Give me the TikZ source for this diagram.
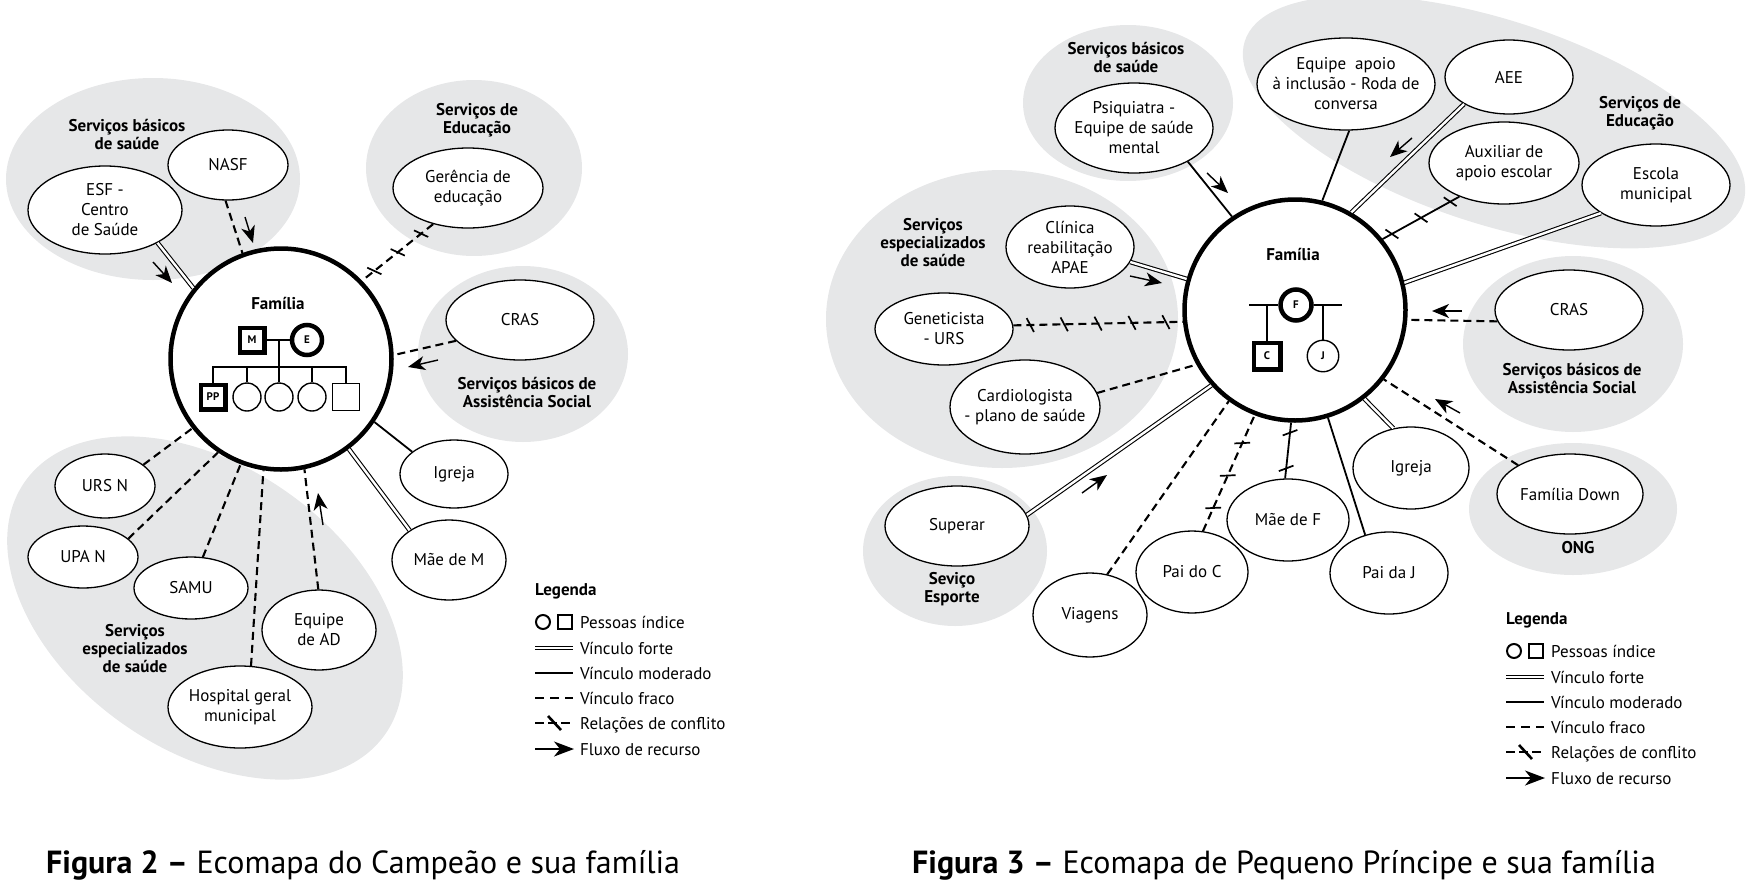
\documentclass[tikz,border=0pt]{standalone}
\usepackage{fontspec}
\setmainfont{PT Sans}
\usepackage{tikz}
\usetikzlibrary{shapes.geometric, arrows.meta, decorations.markings}

\definecolor{bolhacinza}{RGB}{230,231,232}
\newcommand{\servfont}{\fontsize{17}{20}\selectfont}
\newcommand{\grupofont}{\fontsize{17}{18}\selectfont\bfseries}
\newcommand{\genofont}{\fontsize{11}{12}\selectfont\bfseries}
\newcommand{\capfont}{\fontsize{32}{36}\selectfont}

\begin{document}
\begin{tikzpicture}[x=1pt, y=-1pt,
    bolha/.style = {fill=bolhacinza},
    serv/.style 2 args = {ellipse, draw, fill=white, line width=1.3pt,
        inner sep=0pt, minimum width=#1pt, minimum height=#2pt},
    servtxt/.style = {align=center, font=\servfont, inner sep=0pt},
    grupo/.style = {align=center, font=\grupofont, inner sep=0pt},
    fam/.style = {circle, draw, fill=white, line width=4.5pt,
        minimum size=221pt},
    pessoa/.style = {draw, fill=white, inner sep=0pt, font=\genofont},
    forte/.style = {double, double distance=2.4pt, line width=1.1pt},
    moderado/.style = {line width=1.8pt},
    fraco/.style = {line width=2.1pt, dash pattern=on 8pt off 5pt},
    conflito/.style = {postaction={decorate, decoration={markings,
        mark=between positions #1 with {\draw[solid, line width=1.7pt]
        (-3.5pt,7pt) -- (3.5pt,-7pt);}}}},
    fluxo/.style = {line width=1.4pt,
        -{Stealth[length=17pt, width=14pt, inset=5pt]}}]

\useasboundingbox (0,0) rectangle (1747,881);

% ---------------- Figura 2 ----------------

% Grupos de servicos
\fill[bolha] (153,179) ellipse (147 and 101);
\fill[bolha] (474,168) ellipse (108 and 88);
\fill[bolha] (523,354) ellipse (105 and 88);
\fill[bolha, rotate around={-35:(205,608)}] (205,608) ellipse (220 and 142);

% Familia
\node[fam] (fam1) at (281,359) {};
\node[grupo] (tfam1) at (278,303) {Família};

% Genograma
\node[pessoa, minimum size=24.5pt, line width=4.5pt] (m) at (252,340) {M};
\node[pessoa, circle, minimum size=30pt, line width=4.5pt] (e) at (307,340) {E};
\node[pessoa, minimum size=24.5pt, line width=4.5pt] (pp) at (213,397) {PP};
\node[pessoa, circle, minimum size=28pt, line width=1.4pt] (f1) at (247,397) {};
\node[pessoa, circle, minimum size=28pt, line width=1.4pt] (f2) at (279,397) {};
\node[pessoa, circle, minimum size=28pt, line width=1.4pt] (f3) at (312,397) {};
\node[pessoa, minimum size=27pt, line width=1.4pt] (s1) at (346,397) {};
\coordinate (casal1) at (279,340);
\coordinate (irm1) at (279,367);
\draw[line width=1.2pt] (m.east) -- (e.west);
\draw[line width=1.2pt] (casal1) -- (irm1);
\draw[line width=1.2pt] (pp.north) |- (s1.north |- irm1) -- (s1.north);
\foreach \k in {f1,f2,f3}
    \draw[line width=1.2pt] (\k.north) -- (\k.north |- irm1);

% Servicos
\node[serv={154}{88}, label={[servtxt]center:{ESF -\\Centro\\de Saúde}}] (esf) at (105,210) {};
\node[serv={120}{70}, label={[servtxt]center:NASF}] (nasf) at (228,165) {};
\node[serv={150}{80}, label={[servtxt]center:{Gerência de\\educação}}] (geren) at (468,188) {};
\node[serv={148}{80}, label={[servtxt]center:CRAS}] (cras1) at (520,320) {};
\node[serv={108}{68}, label={[servtxt]center:Igreja}] (igreja1) at (454,474) {};
\node[serv={114}{80}, label={[servtxt]center:Mãe de M}] (maem) at (449,560) {};
\node[serv={100}{64}, label={[servtxt]center:URS N}] (urs) at (105,486) {};
\node[serv={110}{62}, label={[servtxt]center:UPA N}] (upa) at (83,557) {};
\node[serv={114}{62}, label={[servtxt]center:SAMU}] (samu) at (191,588) {};
\node[serv={114}{80}, label={[servtxt]center:{Equipe\\de AD}}] (ad) at (319,630) {};
\node[serv={144}{82}, label={[servtxt]center:{Hospital geral\\municipal}}] (hosp) at (240,707) {};

% Vinculos
\draw[forte] (esf.328) -- (fam1.141);
\draw[fraco] (nasf.266) -- (fam1.110);
\draw[fraco, conflito={0.17 and 0.85 step 0.33}] (geren.226) -- (fam1.44);
\draw[fraco] (cras1.198) -- (fam1.2);
\draw[moderado] (igreja1.152) -- (fam1.326);
\draw[forte] (maem.143) -- (fam1.307);
\draw[fraco] (urs.29) -- (fam1.218);
\draw[fraco] (upa.22) -- (fam1.236);
\draw[fraco] (samu.69) -- (fam1.249);
\draw[fraco] (hosp.75) -- (fam1.261);
\draw[fraco] (ad.91) -- (fam1.282);

% Titulos dos grupos
\node[grupo] (g1saude) at (127,134) {Serviços básicos\\de saúde};
\node[grupo] (g1edu) at (477,120) {Serviços de\\Educação};
\node[grupo] (g1social) at (527,392) {Serviços básicos de\\Assistência Social};
\node[grupo] (g1esp) at (135,649) {Serviços\\especializados\\de saúde};

% ---------------- Figura 3 ----------------

% Grupos de servicos
\fill[bolha] (1128,103) ellipse (105 and 78);
\fill[bolha] (1002,319) ellipse (176 and 149);
\fill[bolha, rotate around={-18:(1494,122)}] (1494,122) ellipse (262 and 102);
\fill[bolha] (1573,344) ellipse (110 and 88);
\fill[bolha] (1573,509) ellipse (104 and 66);
\fill[bolha] (955,551) ellipse (92 and 75);

% Familia
\node[fam] (fam2) at (1295,310) {};
\node[grupo] (tfam2) at (1293,254) {Família};

% Genograma
\node[pessoa, circle, minimum size=31pt, line width=4.5pt] (f) at (1296,305) {F};
\node[pessoa, minimum size=26.5pt, line width=4.5pt] (c) at (1267,356) {C};
\node[pessoa, circle, minimum size=31.5pt, line width=1.4pt] (j) at (1323,356) {J};
\coordinate (fl) at (1249,305);
\coordinate (fr) at (1342,305);
\draw[line width=1.2pt] (fl) -- (f.west);
\draw[line width=1.2pt] (f.east) -- (fr);
\draw[line width=1.2pt] (c.north) -- (c.north |- fl);
\draw[line width=1.2pt] (j.north) -- (j.north |- fl);

% Servicos
\node[serv={158}{90}, label={[servtxt]center:{Psiquiatra -\\Equipe de saúde\\mental}}] (psiq) at (1134,128) {};
\node[serv={128}{82}, label={[servtxt]center:{Clínica\\reabilitação\\APAE}}] (clin) at (1070,247) {};
\node[serv={138}{72}, label={[servtxt]center:{Geneticista\\- URS}}] (genet) at (944,329) {};
\node[serv={150}{94}, label={[servtxt]center:{Cardiologista\\- plano de saúde}}] (cardio) at (1025,407) {};
\node[serv={144}{80}, label={[servtxt]center:Superar}] (superar) at (957,526) {};
\node[serv={114}{84}, label={[servtxt]center:Viagens}] (viagens) at (1090,615) {};
\node[serv={112}{82}, label={[servtxt]center:Pai do C}] (paic) at (1192,572) {};
\node[serv={122}{82}, label={[servtxt]center:Mãe de F}] (maef) at (1288,520) {};
\node[serv={118}{82}, label={[servtxt]center:Pai da J}] (paij) at (1389,573) {};
\node[serv={116}{82}, label={[servtxt]center:Igreja}] (igreja2) at (1411,468) {};
\node[serv={146}{80}, label={[servtxt]center:Família Down}] (down) at (1570,494) {};
\node[serv={148}{80}, label={[servtxt]center:CRAS}] (cras2) at (1569,310) {};
\node[serv={148}{82}, label={[servtxt]center:{Escola\\municipal}}] (escola) at (1656,185) {};
\node[serv={150}{82}, label={[servtxt]center:{Auxiliar de\\apoio escolar}}] (aux) at (1504,163) {};
\node[serv={128}{74}, label={[servtxt]center:AEE}] (aee) at (1509,77) {};
\node[serv={178}{92}, label={[servtxt]center:{Equipe\ \ apoio\\à inclusão - Roda de\\conversa}}] (apoio) at (1346,84) {};

% Vinculos
\draw[moderado] (psiq.328) -- (fam2.124);
\draw[forte] (clin.346) -- (fam2.164);
\draw[fraco, conflito={0.1 and 0.95 step 0.2}] (genet.3) -- (fam2.186);
\draw[fraco] (cardio.11) -- (fam2.209);
\draw[forte] (superar.9) -- (fam2.222);
\draw[fraco] (viagens.67) -- (fam2.234);
\draw[fraco, conflito={0.2 and 0.8 step 0.28}] (paic.75) -- (fam2.249);
\draw[moderado, conflito={0.18 and 0.85 step 0.64}] (maef.94) -- (fam2.268);
\draw[moderado] (paij.122) -- (fam2.287);
\draw[forte] (igreja2.114) -- (fam2.308);
\draw[fraco] (down.151) -- (fam2.322);
\draw[fraco] (cras2.189) -- (fam2.355);
\draw[forte] (escola.207) -- (fam2.14);
\draw[moderado, conflito={0.12 and 0.9 step 0.38}] (aux.217) -- (fam2.39);
\draw[forte] (aee.211) -- (fam2.60);
\draw[moderado] (apoio.274) -- (fam2.76);

% Titulos dos grupos
\node[grupo] (g2saude) at (1126,57) {Serviços básicos\\de saúde};
\node[grupo] (g2esp) at (933,243) {Serviços\\especializados\\de saúde};
\node[grupo] (g2edu) at (1640,113) {Serviços de\\Educação};
\node[grupo] (g2social) at (1572,378) {Serviços básicos de\\Assistência Social};
\node[grupo] (g2ong) at (1578,548) {ONG};
\node[grupo] (g2esporte) at (952,589) {Seviço\\Esporte};

% Fluxo de recurso
\foreach \xa/\ya/\xb/\yb in {153/262/172/283, 245/217/253/243, 438/360/408/367,
    323/525/318/493, 1207/173/1228/193, 1130/276/1162/283, 1412/138/1390/157,
    1462/311/1432/311, 1460/413/1435/399, 1082/493/1107/475}
    \draw[fluxo] (\xa,\ya) -- (\xb,\yb);

% Legendas
\foreach \dx/\dy in {0/0, 971/29} {
  \begin{scope}[shift={(\dx,\dy)}]
    \node[grupo, anchor=west] (legenda\dx) at (535,591) {Legenda};
    \node[pessoa, circle, line width=2pt, minimum size=14pt] (legc\dx) at (543,622) {};
    \node[pessoa, line width=2pt, minimum size=14pt] (legq\dx) at (565,622) {};
    \draw[forte] (535,648) -- (573,648);
    \draw[moderado] (535,673) -- (573,673);
    \draw[fraco, dash pattern=on 9pt off 6pt] (535,698) -- (573,698);
    \draw[fraco, dash pattern=on 9pt off 4pt] (535,723) -- (573,723);
    \draw[line width=2.6pt] (548,716) -- (561,730);
    \draw[fluxo, -{Stealth[length=20pt, width=15pt, inset=6pt]}] (535,749) -- (574,749);
    \foreach \y/\t in {622/Pessoas índice, 648/Vínculo forte, 673/Vínculo moderado,
        698/Vínculo fraco, 723/Relações de conflito, 749/Fluxo de recurso}
      \node[servtxt, anchor=base west, yshift=-6pt] (leg\dx-\y) at (580,\y) {\t};
  \end{scope}
}

% Legendas das figuras
\node[font=\capfont, anchor=base west, inner sep=0pt] (cap2) at (46,873)
    {\textbf{Figura 2 –} Ecomapa do Campeão e sua família};
\node[font=\capfont, anchor=base west, inner sep=0pt] (cap3) at (912,873)
    {\textbf{Figura 3 –} Ecomapa de Pequeno Príncipe e sua família};
\end{tikzpicture}
\end{document}
